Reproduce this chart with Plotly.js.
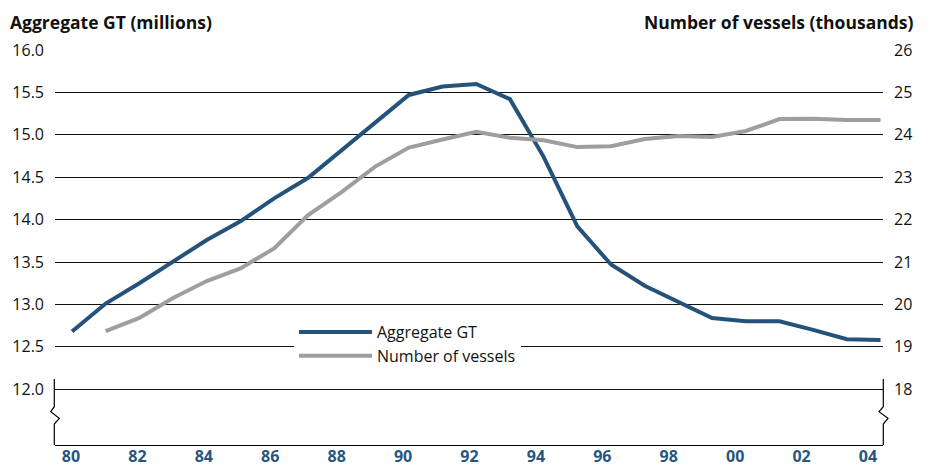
<!DOCTYPE html>
<html>
<head>
<meta charset="utf-8">
<script src="https://cdn.plot.ly/plotly-3.0.1.min.js"></script>
<style>html,body{margin:0;padding:0;background:#fff;}#chart{width:931px;height:470px;}</style>
</head>
<body>
<div id="chart"></div>
<script>
const gtYears = [1980,1981,1982,1983,1984,1985,1986,1987,1988,1989,1990,1991,1992,1993,1994,1995,1996,1997,1998,1999,2000,2001,2002,2003,2004];
const aggregateGT = [12.68,13.01,13.25,13.50,13.76,13.98,14.25,14.49,14.82,15.15,15.47,15.57,15.60,15.42,14.74,13.92,13.47,13.22,13.03,12.84,12.80,12.80,12.70,12.59,12.58];
const vesselYears = [1981,1982,1983,1984,1985,1986,1987,1988,1989,1990,1991,1992,1993,1994,1995,1996,1997,1998,1999,2000,2001,2002,2003,2004];
const vessels = [19.37,19.68,20.15,20.55,20.85,21.32,22.10,22.65,23.25,23.70,23.89,24.07,23.93,23.87,23.71,23.73,23.90,23.97,23.95,24.09,24.37,24.38,24.35,24.35];
const xTickYears = [1980,1982,1984,1986,1988,1990,1992,1994,1996,1998,2000,2002,2004];
const xTickLabels = ['80','82','84','86','88','90','92','94','96','98','00','02','04'];
const leftTicks = [12.0,12.5,13.0,13.5,14.0,14.5,15.0,15.5,16.0];
const leftTickLabels = ['12.0','12.5','13.0','13.5','14.0','14.5','15.0','15.5','16.0'];
const rightTicks = [18,19,20,21,22,23,24,25,26];
const seriesNames = ['Aggregate GT','Number of vessels'];
const leftTitle = 'Aggregate GT (millions)';
const rightTitle = 'Number of vessels (thousands)';

const BLUE = '#24527a';
const GRAY = '#9e9e9e';
const FONT = 'Open Sans, Noto Sans, sans-serif';

const traces = [
  {x: gtYears, y: aggregateGT, name: seriesNames[0], type: 'scatter', mode: 'lines',
   line: {color: BLUE, width: 4}, xaxis: 'x', yaxis: 'y', legendgroup: 'a'},
  {x: vesselYears, y: vessels, name: seriesNames[1], type: 'scatter', mode: 'lines',
   line: {color: GRAY, width: 4}, xaxis: 'x', yaxis: 'y2', legendgroup: 'b'},
  // empty trace so that the tick-label axis (x2) is created
  {x: [], y: [], type: 'scatter', mode: 'lines', xaxis: 'x2', yaxis: 'y',
   showlegend: false, hoverinfo: 'skip'}
];

const layout = {
  width: 931, height: 470,
  margin: {l: 55, r: 48, t: 50, b: 25, pad: 0},
  paper_bgcolor: '#fff', plot_bgcolor: '#fff',
  font: {family: FONT, color: '#111', size: 16},
  showlegend: true,
  legend: {x: 0.2886, y: 0.329, xanchor: 'left', yanchor: 'top', bgcolor: '#fff',
           borderwidth: 0, font: {size: 16, color: '#111', family: FONT},
           traceorder: 'grouped', tracegroupgap: 0, itemwidth: 73},
  xaxis: {range: [1979.4954, 2004.074], showticklabels: false, ticks: '', showgrid: false,
          zeroline: false, showline: true, linecolor: '#000', linewidth: 1.3},
  xaxis2: {overlaying: 'x', anchor: 'y', side: 'bottom', range: [1979.518, 2004.452],
           tickmode: 'array', tickvals: xTickYears, ticktext: xTickLabels, ticks: '',
           showgrid: false, zeroline: false, showline: false, ticklabelstandoff: 0,
           tickfont: {size: 16, color: '#27567f', family: FONT, weight: 700}},
  yaxis: {range: [11.342, 16], tickmode: 'array', tickvals: leftTicks, ticktext: leftTickLabels,
          ticks: '', showgrid: true, gridcolor: '#111', gridwidth: 1, zeroline: false,
          showline: false, ticklabelstandoff: 10, tickfont: {size: 16, color: '#111'}},
  yaxis2: {overlaying: 'y', side: 'right', anchor: 'x', range: [16.684, 26], tickmode: 'array',
           tickvals: rightTicks, ticks: '', showgrid: false, zeroline: false, showline: false,
           ticklabelstandoff: 10, tickfont: {size: 16, color: '#111'}},
  annotations: [
    {text: leftTitle, xref: 'paper', yref: 'paper', x: -0.0568, y: 1.072, xanchor: 'left', yanchor: 'middle',
     showarrow: false, font: {size: 17.5, color: '#111', family: FONT, weight: 700}},
    {text: rightTitle, xref: 'paper', yref: 'paper', x: 1.0399, y: 1.072, xanchor: 'right', yanchor: 'middle',
     showarrow: false, font: {size: 17.5, color: '#111', family: FONT, weight: 700}}
  ],
  shapes: [
    {type: 'path', xref: 'paper', yref: 'y', layer: 'above',
     path: 'M -0.00085,12.1203 L -0.00085,11.7936 L -0.0052,11.7347 L 0.0052,11.6568 L -0.00085,11.5896 L -0.00085,11.342',
     line: {color: '#000', width: 1.2}},
    {type: 'path', xref: 'paper', yref: 'y', layer: 'above',
     path: 'M 1.00036,12.1203 L 1.00036,11.7936 L 0.9952,11.7347 L 1.006,11.6568 L 1.00036,11.5896 L 1.00036,11.342',
     line: {color: '#000', width: 1.2}}
  ]
};

Plotly.newPlot('chart', traces, layout, {staticPlot: true, displayModeBar: false});
</script>
</body>
</html>
